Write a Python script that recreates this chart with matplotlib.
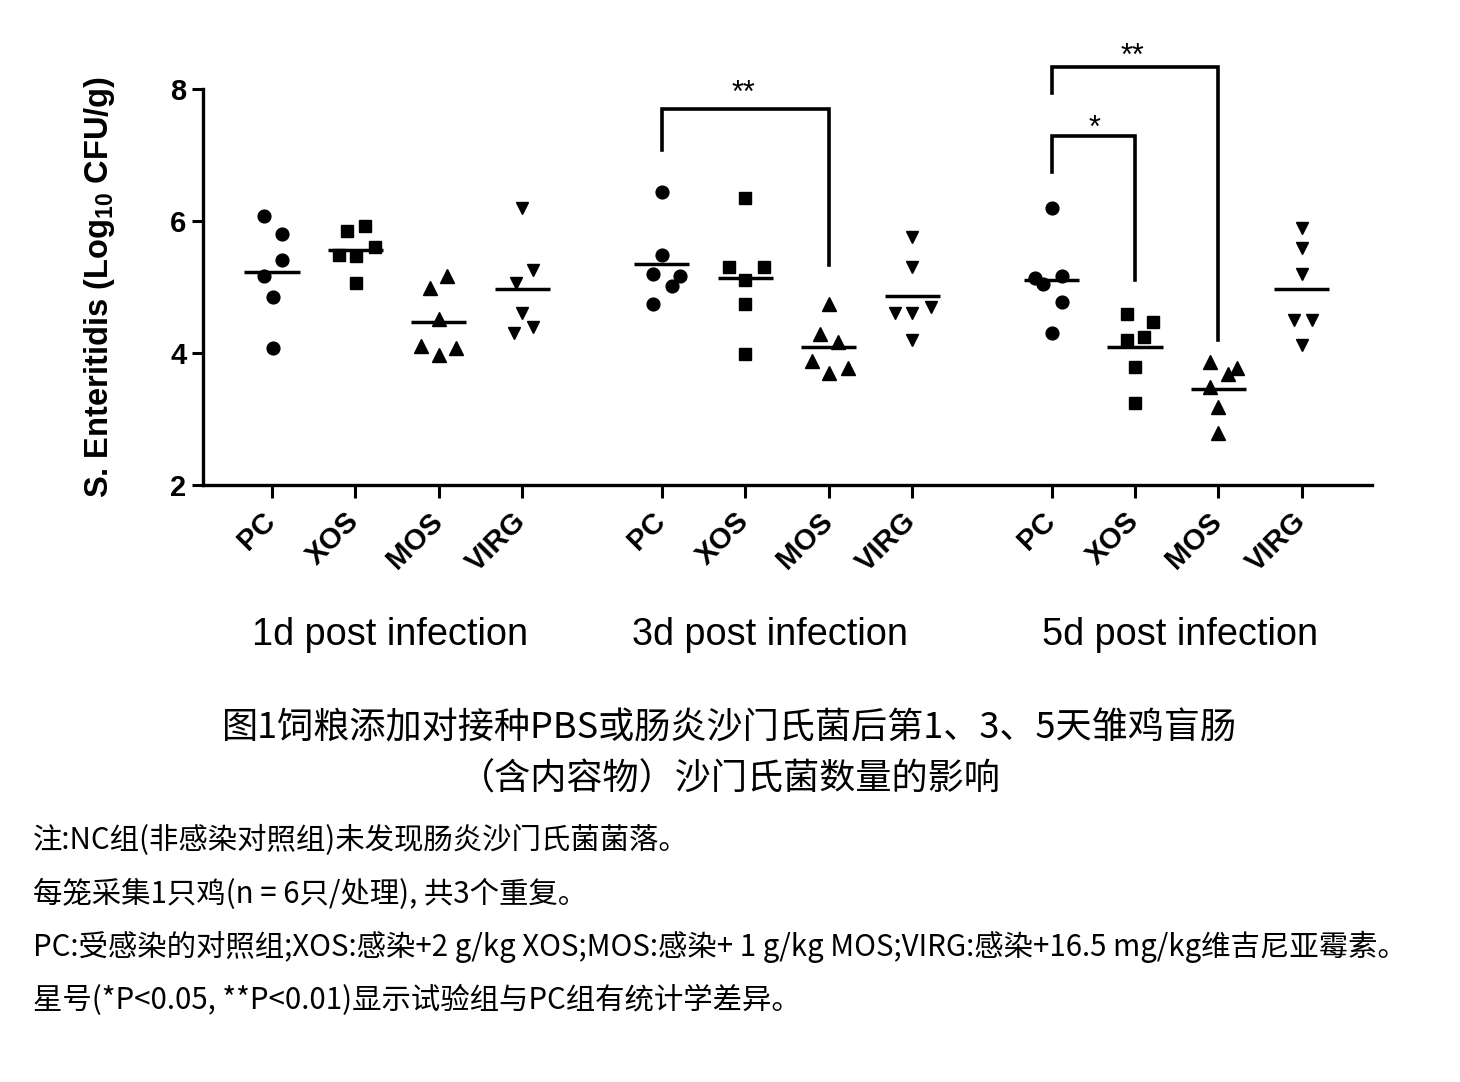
import numpy as np
import matplotlib
matplotlib.use("Agg")
import matplotlib.pyplot as plt
import matplotlib.transforms as mtransforms

# === Veriler ===
groups = ["PC", "XOS", "MOS", "VIRG"]
days = ["1d post infection", "3d post infection", "5d post infection"]

d1_pc = [6.08, 5.80, 5.41, 5.17, 4.85, 4.08]
d1_xos = [5.85, 5.92, 5.61, 5.48, 5.47, 5.06]
d1_mos = [5.17, 4.98, 4.52, 4.11, 4.08, 3.97]
d1_virg = [6.20, 5.26, 5.06, 4.61, 4.39, 4.30]

d3_pc = [6.44, 5.48, 5.20, 5.17, 5.02, 4.74]
d3_xos = [6.35, 5.30, 5.30, 5.11, 4.74, 3.98]
d3_mos = [4.74, 4.29, 4.17, 3.88, 3.77, 3.70]
d3_virg = [5.76, 5.30, 4.70, 4.61, 4.61, 4.20]

d5_pc = [6.20, 5.14, 5.05, 5.17, 4.77, 4.30]
d5_xos = [4.59, 4.47, 4.20, 4.24, 3.79, 3.24]
d5_mos = [3.86, 3.77, 3.68, 3.48, 3.18, 2.79]
d5_virg = [5.89, 5.59, 5.20, 4.50, 4.50, 4.12]

all_values = [d1_pc, d1_xos, d1_mos, d1_virg,
              d3_pc, d3_xos, d3_mos, d3_virg,
              d5_pc, d5_xos, d5_mos, d5_virg]

# noktaların yatay dağılımı (grup merkezine göre)
spread = [
    [-0.10, 0.12, 0.12, -0.10, 0.01, 0.01],
    [-0.10, 0.12, 0.23, -0.20, 0.01, 0.01],
    [0.10, -0.11, 0.00, -0.22, 0.20, 0.00],
    [0.00, 0.13, -0.08, 0.00, 0.13, -0.10],
    [0.00, 0.00, -0.10, 0.22, 0.12, -0.10],
    [0.00, -0.20, 0.22, 0.00, 0.00, 0.00],
    [0.00, -0.11, 0.11, -0.20, 0.23, 0.00],
    [0.00, 0.00, 0.22, -0.20, 0.00, 0.00],
    [0.00, -0.20, -0.10, 0.12, 0.12, 0.00],
    [-0.10, 0.22, -0.10, 0.11, 0.00, 0.00],
    [-0.10, 0.22, 0.11, -0.10, 0.00, 0.00],
    [0.00, 0.00, 0.00, -0.10, 0.12, 0.00],
]

yticks = [2, 4, 6, 8]
ylabel = r"S. Enteritidis (Log$_{\mathbf{10}}$ CFU/g)"

# anlamlılık köşeli parantezleri: (sol grup, sağ grup, sol alt, tepe, sağ alt, etiket)
brackets = [
    (4, 6, 7.08, 7.70, 5.33, "**"),
    (8, 10, 7.94, 8.33, 4.20, "**"),
    (8, 9, 6.74, 7.29, 5.11, "*"),
]
star_pos = [(5.65, 7.81), (10.31, 8.37), (9.86, 7.28)]

title_lines = ["图1饲粮添加对接种PBS或肠炎沙门氏菌后第1、3、5天雏鸡盲肠",
               "（含内容物）沙门氏菌数量的影响"]
notes = [
    "注:NC组(非感染对照组)未发现肠炎沙门氏菌菌落。",
    "每笼采集1只鸡(n = 6只/处理), 共3个重复。",
    "PC:受感染的对照组;XOS:感染+2 g/kg XOS;MOS:感染+ 1 g/kg MOS;VIRG:感染+16.5 mg/kg维吉尼亚霉素。",
    "星号(*P<0.05, **P<0.01)显示试验组与PC组有统计学差异。",
]

# === Çizim ===
plt.rcParams["mathtext.fontset"] = "custom"
plt.rcParams["mathtext.bf"] = "Liberation Sans:bold"
plt.rcParams["mathtext.rm"] = "Liberation Sans"
latin = ["Liberation Sans", "DejaVu Sans"]
cjk = ["Noto Sans CJK SC", "DejaVu Sans"]

gap = 4.67
positions = [g * gap + i for g in range(3) for i in range(4)]
markers = ["o", "s", "^", "v"]
msizes = [9.2, 9.0, 9.8, 8.2]

fig = plt.figure(figsize=(14.6, 10.82), dpi=100)
ax = fig.add_axes([203 / 1460, 1 - 485 / 1082, 1169 / 1460, 396 / 1082])

for k, (x0, vals) in enumerate(zip(positions, all_values)):
    xs = [x0 + d for d in spread[k]]
    ax.plot(xs, vals, linestyle="none", marker=markers[k % 4],
            markersize=msizes[k % 4], color="black", clip_on=False, zorder=3)
    m = np.mean(vals)
    ax.plot([x0 - 0.33, x0 + 0.33], [m, m], color="black", lw=2.5,
            solid_capstyle="butt", zorder=4)

for (a, b, yl, yt, yr, lab), (sx, sy) in zip(brackets, star_pos):
    xa, xb = positions[a], positions[b]
    ax.plot([xa, xa, xb, xb], [yl, yt, yt, yr], color="black", lw=2.6,
            clip_on=False, solid_joinstyle="miter")
    ax.text(sx, sy, lab, ha="center", va="baseline", fontsize=22,
            family=latin, clip_on=False)

ax.set_xlim(-0.827, 13.18)
ax.set_ylim(2, 8)
ax.set_yticks(yticks)
ax.set_yticklabels([str(t) for t in yticks], fontsize=21, fontweight="bold",
                   family=latin)
ax.set_xticks(positions)
ax.set_xticklabels(groups * 3, rotation=45, ha="right", va="baseline",
                   rotation_mode="anchor", fontsize=21, fontweight="bold",
                   family=latin)
ax.tick_params(axis="y", length=8, width=2.2, pad=4)
ax.tick_params(axis="x", length=9, width=2.2, pad=18)
# etiketleri biraz sağa kaydır
shift = mtransforms.ScaledTranslation(0.05, 0, fig.dpi_scale_trans)
for lbl in ax.get_xticklabels():
    lbl.set_transform(lbl.get_transform() + shift)
for s in ["top", "right"]:
    ax.spines[s].set_visible(False)
for s in ["left", "bottom"]:
    ax.spines[s].set_linewidth(2.4)

fig.text(100 / 1460, 1 - 287 / 1082, ylabel, rotation=90, ha="center",
         va="center", fontsize=23.5, fontweight="bold", family=latin)

day_x = [1.41, 5.97, 10.88]
for dx, lab in zip(day_x, days):
    ax.text(dx, -0.38, lab, transform=ax.get_xaxis_transform(), ha="center",
            va="center", fontsize=27.3, family=latin)

fig.text(0.5, 1 - 728 / 1082, title_lines[0], ha="center", va="center",
         fontsize=26, family=cjk)
fig.text(0.5, 1 - 780 / 1082, title_lines[1], ha="center", va="center",
         fontsize=26, family=cjk)

note_y = [840, 894, 947, 1000]
for ny, t in zip(note_y, notes):
    fig.text(33 / 1460, 1 - ny / 1082, t, ha="left", va="center",
             fontsize=21.2, family=cjk)

fig.savefig("out.png", dpi=100)
